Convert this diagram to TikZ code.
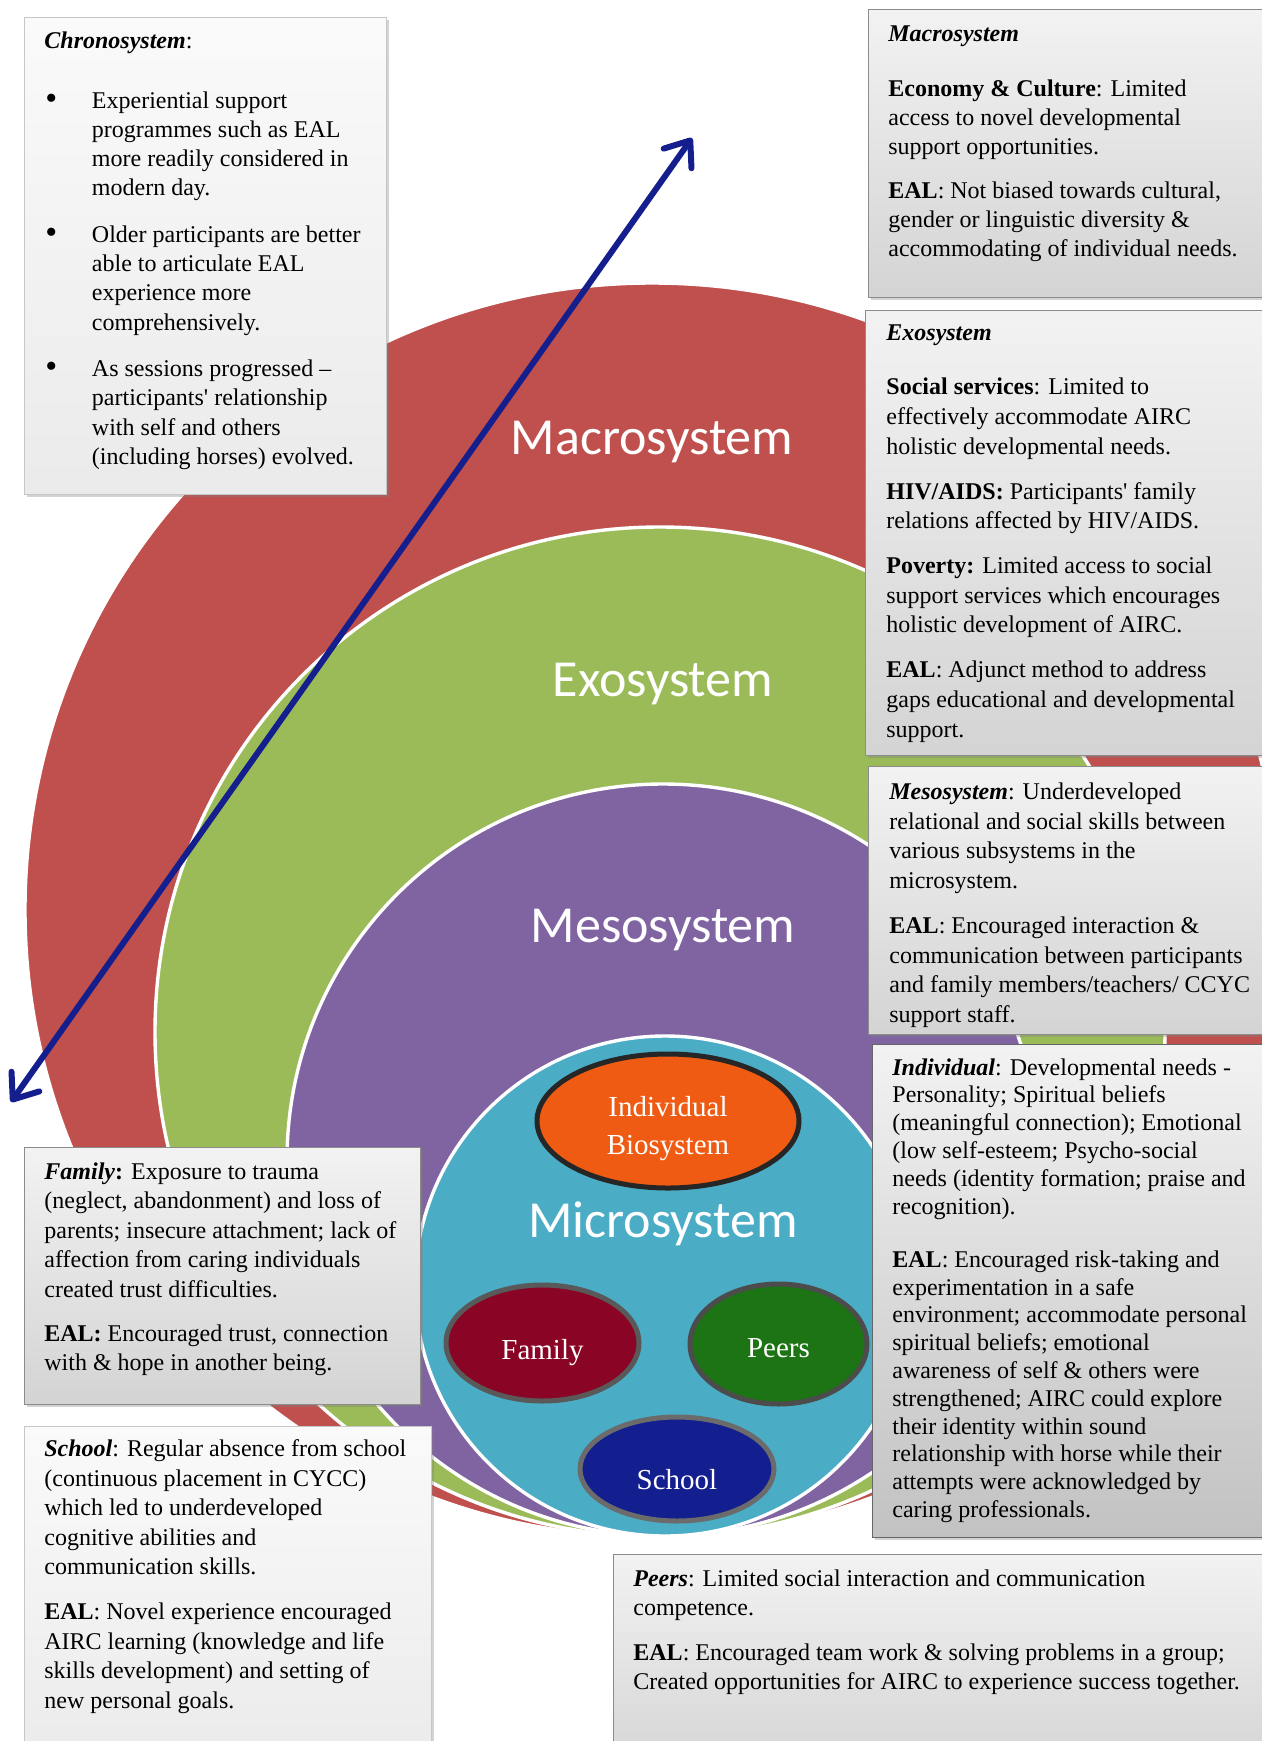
\documentclass[tikz,border=0pt]{standalone}
\usepackage{fontspec}
\setmainfont{Liberation Serif}
\newfontfamily\calibri{Carlito}
\usetikzlibrary{arrows.meta,shapes.geometric,shadows}

\definecolor{macrored}{HTML}{C0504D}
\definecolor{exogreen}{HTML}{9BBB59}
\definecolor{mesopurple}{HTML}{8064A2}
\definecolor{microblue}{HTML}{4BACC6}
\definecolor{timearrow}{RGB}{20,30,140}
\definecolor{indorange}{HTML}{EF5B12}
\definecolor{famred}{HTML}{8A0425}
\definecolor{peergreen}{HTML}{1C7414}
\definecolor{schoolblue}{HTML}{131E8F}

% width, height, top gap, text
\def\boxtext#1#2#3#4{\begin{minipage}[t][#2][t]{#1}\raggedright\vspace*{#3}\rule{0pt}{10pt}#4\end{minipage}}
\def\bul{\hspace*{0.5pt}\makebox[23.3pt][l]{\raisebox{-0.6pt}{\fontsize{17}{17}\selectfont\textbullet}}}
\def\hang{\hspace*{23.8pt}}
\def\q{\textquotesingle}
% lowered text that takes no room
\def\low#1#2{\raisebox{-#1}[0pt][0pt]{#2}}

\tikzset{
  ring/.style={draw=white, line width=1.7pt},
  ringlabel/.style={text=white, font=\calibri\fontsize{26}{30}\selectfont},
  subsys/.style={ellipse, line width=2.5pt, inner sep=0pt, text=white, align=center, font=\fontsize{14.5}{19}\selectfont},
  timeline/.style={draw=timearrow, line width=3pt, line cap=round, {Straight Barb[length=11pt,width=17pt,round]}-{Straight Barb[length=11pt,width=17pt,round]}},
  infobox/.style={anchor=north west, inner xsep=10pt, inner ysep=0pt, font=\fontsize{12}{14.6}\selectfont, drop shadow={shadow xshift=1.5pt, shadow yshift=-1.5pt, opacity=.35}},
  lightbox/.style={infobox, draw=black!22, top color=black!2, bottom color=black!8},
  greybox/.style={infobox, draw=black!45, top color=black!5, bottom color=black!17},
}

\begin{document}
\begin{tikzpicture}[x=0.5pt, y=-0.5pt]
		%%%%% START %%%%%
		\useasboundingbox (0,0) rectangle (1262,1741);
		
		% nested systems
		\coordinate (macroc) at (652,910);
		\coordinate (exoc) at (660,1032);
		\coordinate (mesoc) at (663,1160);
		\coordinate (microc) at (665,1286);
		\draw[ring, fill=macrored] (macroc) circle (313.5pt);
		\draw[ring, fill=exogreen] (exoc) circle (252.5pt);
		\draw[ring, fill=mesopurple] (mesoc) circle (188pt);
		\draw[ring, fill=microblue] (microc) circle (125pt);
		
		\node[ringlabel] (macrolbl) at (652,442) {Macrosystem};
		\node[ringlabel] (exolbl) at (663,684) {Exosystem};
		\node[ringlabel] (mesolbl) at (663,930) {Mesosystem};
		\node[ringlabel] (microlbl) at (663,1224) {Microsystem};
		
		% microsystem parts
		\node[subsys, fill=indorange, draw=black!85, minimum width=131pt, minimum height=67pt] (indiv) at (668,1121) {\low{7.6pt}{\parbox{70pt}{\centering Individual\\Biosystem}}};
		\node[subsys, fill=famred, draw=black!65, minimum width=96.5pt, minimum height=58pt] (family) at (542.5,1343) {\low{8.4pt}{Family}};
		\node[subsys, fill=peergreen, draw=black!70, minimum width=88.5pt, minimum height=60pt] (peers) at (778.5,1344) {\low{6.5pt}{Peers}};
		\node[subsys, fill=schoolblue, draw=black!58, minimum width=97pt, minimum height=52pt] (school) at (677,1469) {\low{10.4pt}{School}};
		
		% chronosystem arrow
		\coordinate (past) at (11,1102);
		\coordinate (future) at (692,138);
		\draw[timeline] (past) -- (future);
		
		% boxes left
		\node[lightbox] (chrono) at (24,17) {\boxtext{161pt}{238.5pt}{5.4pt}{%
			\textbf{\textit{Chronosystem}}:\\[15.4pt]
			\bul Experiential support\\
			\hang programmes such as EAL\\
			\hang more readily considered in\\
			\hang modern day.\\[8.7pt]
			\bul Older participants are better\\
			\hang able to articulate EAL\\
			\hang experience more\\
			\hang comprehensively.\\[8.7pt]
			\bul As sessions progressed --\\
			\hang participants\q{} relationship\\
			\hang with self and others\\
			\hang (including horses) evolved.}};
		
		\node[greybox, font=\fontsize{12}{14.7}\selectfont] (fambox) at (24,1147) {\boxtext{178pt}{128.5pt}{6pt}{%
			\textbf{\textit{Family}:} Exposure to trauma\\
			(neglect, abandonment) and loss of\\
			parents; insecure attachment; lack of\\
			affection from caring individuals\\
			created trust difficulties.\\[7.5pt]
			\textbf{EAL:} Encouraged trust, connection\\
			with \& hope in another being.}};
		
		\node[lightbox, font=\fontsize{12}{14.7}\selectfont] (schoolbox) at (24,1426) {\boxtext{183.5pt}{170pt}{5.2pt}{%
			\textbf{\textit{School}}: Regular absence from school\\
			(continuous placement in CYCC)\\
			which led to underdeveloped\\
			cognitive abilities and\\
			communication skills.\\[8pt]
			\textbf{EAL}: Novel experience encouraged\\
			AIRC learning (knowledge and life\\
			skills development) and setting of\\
			new personal goals.}};
		
		% boxes right
		\node[greybox, font=\fontsize{12}{14.4}\selectfont] (macrobox) at (868,9) {\boxtext{200pt}{144pt}{6pt}{%
			\textbf{\textit{Macrosystem}}\\[13.3pt]
			\textbf{Economy \& Culture}: Limited\\
			access to novel developmental\\
			support opportunities.\\[7.8pt]
			\textbf{EAL}: Not biased towards cultural,\\
			gender or linguistic diversity \&\\
			accommodating of individual needs.}};
		
		\node[greybox, inner xsep=10.5pt, font=\fontsize{12}{14.8}\selectfont] (exobox) at (865,310) {\boxtext{200pt}{222.5pt}{5pt}{%
			\textbf{\textit{Exosystem}}\\[12.4pt]
			\textbf{Social services}: Limited to\\
			effectively accommodate AIRC\\
			holistic developmental needs.\\[7.7pt]
			\textbf{HIV/AIDS:} Participants\q{} family\\
			relations affected by HIV/AIDS.\\[7.7pt]
			\textbf{Poverty:} Limited access to social\\
			support services which encourages\\
			holistic development of AIRC.\\[7.7pt]
			\textbf{EAL}: Adjunct method to address\\
			gaps educational and developmental\\
			support.}};
		
		\node[greybox, inner xsep=10.5pt, font=\fontsize{12}{14.8}\selectfont] (mesobox) at (868,766) {\boxtext{200pt}{134pt}{6.5pt}{%
			\textbf{\textit{Mesosystem}}: Underdeveloped\\
			relational and social skills between\\
			various subsystems in the\\
			microsystem.\\[7.9pt]
			\textbf{EAL}: Encouraged interaction \&\\
			communication between participants\\
			and family members/teachers/ CCYC\\
			support staff.}};
		
		\node[greybox, bottom color=black!24, draw=black!60, font=\fontsize{12}{13.9}\selectfont] (indbox) at (872,1044) {\boxtext{200pt}{246.5pt}{5.3pt}{%
			\textbf{\textit{Individual}}: Developmental needs -\\
			Personality; Spiritual beliefs\\
			(meaningful connection); Emotional\\
			(low self-esteem; Psycho-social\\
			needs (identity formation; praise and\\
			recognition).\\[12.7pt]
			\textbf{EAL}: Encouraged risk-taking and\\
			experimentation in a safe\\
			environment; accommodate personal\\
			spiritual beliefs; emotional\\
			awareness of self \& others were\\
			strengthened; AIRC could explore\\
			their identity within sound\\
			relationship with horse while their\\
			attempts were acknowledged by\\
			caring professionals.}};
		
		\node[greybox, font=\fontsize{12}{14.4}\selectfont] (peerbox) at (613,1554) {\boxtext{320pt}{110pt}{6pt}{%
			\textbf{\textit{Peers}}: Limited social interaction and communication\\
			competence.\\[8.3pt]
			\textbf{EAL}: Encouraged team work \& solving problems in a group;\\
			Created opportunities for AIRC to experience success together.}};
		
		%%%%% END %%%%%
\end{tikzpicture}
\end{document}
